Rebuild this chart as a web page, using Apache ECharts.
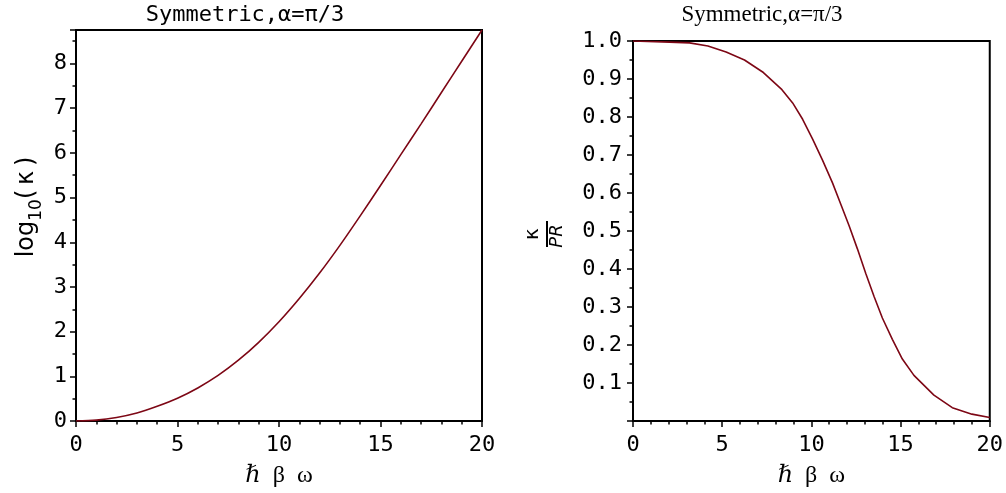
<!DOCTYPE html>
<html>
<head>
<meta charset="utf-8">
<script src="https://cdn.jsdelivr.net/npm/echarts@6/dist/echarts.min.js"></script>
<style>
  html, body { margin: 0; padding: 0; background: #fff; }
  #main { width: 1006px; height: 493px; }
</style>
</head>
<body>
<div id="main"></div>
<script>
  // left panel: log10(kappa) against hbar*beta*omega
  var leftX = [0, 1, 2, 3, 4, 5, 6, 7, 8, 9, 10, 11, 12, 13, 14, 15, 16, 17, 18, 19, 20];
  var leftLog = [0, 0.02, 0.08, 0.18, 0.33, 0.51, 0.74, 1.02, 1.36, 1.76, 2.22,
                 2.74, 3.31, 3.93, 4.59, 5.27, 5.96, 6.65, 7.35, 8.05, 8.75];

  // right panel: kappa / PR, plot vertices
  var rightX = [0, 2.05, 3.17, 4.2, 5.22, 6.25, 7.31, 8.35, 8.95, 9.51, 10.07, 10.63, 11.19,
                11.66, 12.12, 12.58, 13.05, 13.52, 13.98, 14.54, 15.1, 15.75, 16.87, 17.9, 19.0, 20];
  var rightRatio = [1.0, 0.997, 0.995, 0.987, 0.971, 0.95, 0.917, 0.872, 0.837, 0.794, 0.742, 0.686, 0.626,
                    0.569, 0.513, 0.453, 0.388, 0.327, 0.271, 0.215, 0.163, 0.12, 0.068, 0.035, 0.018, 0.009];

  var titleText = 'Symmetric,α=π/3';
  var xName = 'ℏ  β  ω';

  var lineColor = '#7d0715';
  var mono = 'DejaVu Sans Mono';
  var serif = 'Liberation Serif, DejaVu Serif';
  var sans = 'DejaVu Sans';

  function pairs(xs, ys) {
    return xs.map(function (x, i) { return [x, ys[i]]; });
  }

  var myChart = echarts.init(document.getElementById('main'));

  function xAxisFor(gridIndex) {
    return {
      type: 'value',
      gridIndex: gridIndex,
      min: 0,
      max: 20,
      interval: 5,
      name: xName,
      nameLocation: 'middle',
      nameGap: 43,
      nameTextStyle: { fontFamily: serif, fontSize: 24, color: '#000' },
      axisLine: { show: true, lineStyle: { color: '#000', width: 2 } },
      axisTick: { show: true, length: 6, lineStyle: { color: '#000', width: 1.5 } },
      minorTick: { show: true, splitNumber: 5, length: 3.5, lineStyle: { color: '#000', width: 1.5 } },
      axisLabel: { fontFamily: mono, fontSize: 22, color: '#000', margin: 13 },
      splitLine: { show: false }
    };
  }

  var option = {
    backgroundColor: '#ffffff',
    animation: false,
    title: [{
      text: titleText,
      left: 245,
      top: 4,
      textAlign: 'center',
      padding: 0,
      textStyle: { fontFamily: mono, fontSize: 22, fontWeight: 'normal', color: '#000' }
    }, {
      text: titleText,
      left: 762,
      top: 3,
      textAlign: 'center',
      padding: 0,
      textStyle: { fontFamily: serif, fontSize: 23, fontWeight: 'normal', color: '#000' }
    }],
    grid: [{
      left: 76, right: 524, top: 30, bottom: 70,
      show: true, borderColor: '#000', borderWidth: 2
    }, {
      left: 633, right: 14, top: 41, bottom: 68,
      show: true, borderColor: '#000', borderWidth: 2
    }],
    xAxis: [xAxisFor(0), xAxisFor(1)],
    yAxis: [{
      type: 'value',
      gridIndex: 0,
      min: 0,
      max: 8.75,
      interval: 1,
      axisLine: { show: true, lineStyle: { color: '#000', width: 2 } },
      axisTick: { show: true, length: 6, lineStyle: { color: '#000', width: 1.5 } },
      minorTick: { show: true, splitNumber: 2, length: 3.5, lineStyle: { color: '#000', width: 1.5 } },
      axisLabel: {
        fontFamily: mono, fontSize: 22, color: '#000', margin: 9,
        formatter: function (v) { return v % 1 === 0 ? String(v) : ''; }
      },
      splitLine: { show: false }
    }, {
      type: 'value',
      gridIndex: 1,
      min: 0,
      max: 1,
      interval: 0.1,
      axisLine: { show: true, lineStyle: { color: '#000', width: 2 } },
      axisTick: { show: true, length: 6, lineStyle: { color: '#000', width: 1.5 } },
      minorTick: { show: true, splitNumber: 2, length: 3.5, lineStyle: { color: '#000', width: 1.5 } },
      axisLabel: {
        fontFamily: mono, fontSize: 22, color: '#000', margin: 11,
        formatter: function (v) { return v === 0 ? '' : v.toFixed(1); }
      },
      splitLine: { show: false }
    }],
    // y axis names: log10(kappa) on the left, fraction kappa / PR on the right
    graphic: [{
      type: 'text',
      x: 30,
      y: 207,
      rotation: Math.PI / 2,
      style: {
        text: '{t|log}{s|10}{t|(\u2009κ\u2009)}',
        align: 'center',
        verticalAlign: 'middle',
        rich: {
          t: { fontFamily: sans, fontSize: 24, fill: '#000', verticalAlign: 'bottom', padding: [0, 0, 7, 0] },
          s: { fontFamily: sans, fontSize: 17, fill: '#000', verticalAlign: 'bottom' }
        }
      }
    }, {
      type: 'group',
      x: 545,
      y: 234,
      rotation: Math.PI / 2,
      children: [{
        type: 'text',
        x: 0, y: -12,
        style: { text: 'κ', fontFamily: sans, fontSize: 20, fill: '#000', align: 'center', verticalAlign: 'middle' }
      }, {
        type: 'line',
        shape: { x1: -13, y1: 2, x2: 13, y2: 2 },
        style: { stroke: '#000', lineWidth: 2 }
      }, {
        type: 'text',
        x: -2, y: 12,
        style: { text: 'PR', fontFamily: sans, fontStyle: 'italic', fontSize: 18, fill: '#000', align: 'center', verticalAlign: 'middle' }
      }]
    }],
    series: [{
      type: 'line',
      xAxisIndex: 0,
      yAxisIndex: 0,
      data: pairs(leftX, leftLog),
      showSymbol: false,
      smooth: 0.3,
      lineStyle: { color: lineColor, width: 1.6 }
    }, {
      type: 'line',
      xAxisIndex: 1,
      yAxisIndex: 1,
      data: pairs(rightX, rightRatio),
      showSymbol: false,
      lineStyle: { color: lineColor, width: 1.6 }
    }]
  };

  myChart.setOption(option);
</script>
</body>
</html>
